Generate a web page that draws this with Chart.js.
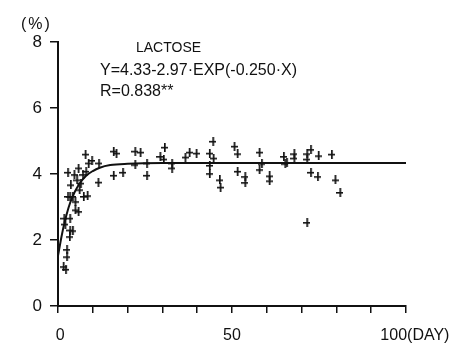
<!DOCTYPE html>
<html>
<head>
<meta charset="utf-8">
<script src="https://cdn.jsdelivr.net/npm/chart.js@4/dist/chart.umd.min.js"></script>
<style>
  html, body { margin: 0; padding: 0; background: #fff; }
  #wrap { width: 454px; height: 343px; position: relative; }
</style>
</head>
<body>
<div id="wrap"><canvas id="chart" width="454" height="343"></canvas></div>
<script>
// observed samples (day, lactose %)
const sampleDays = [
  1.5, 2.2, 2.5, 2.5, 1.7, 2.0, 3.3, 3.4, 4.2, 3.4, 2.8, 3.4, 4.2, 2.8, 3.6, 4.6,
  5.4, 5.8, 4.9, 4.9, 5.8, 6.1, 6.5, 7.1, 7.3, 8.4, 7.8, 8.0, 8.7, 9.7, 11.7, 11.5,
  15.9, 16.7, 15.9, 18.6, 22.1, 23.6, 22.1, 25.5, 25.5, 29.3, 30.6, 30.3, 32.7, 32.7,
  36.5, 37.7, 39.7, 43.5, 44.5, 44.6, 43.5, 43.5, 46.4, 46.6, 50.6, 51.5, 51.5, 53.7,
  53.7, 57.8, 57.8, 58.5, 60.7, 60.7, 64.8, 65.2, 65.7, 67.8, 67.8, 71.5, 71.5, 72.6,
  72.6, 74.8, 74.6, 78.6, 79.6, 81.0, 71.5
];
const sampleValues = [
  1.19, 1.11, 1.49, 1.71, 2.66, 2.48, 2.10, 2.30, 2.28, 2.66, 3.32, 3.32, 3.32, 4.05, 3.67, 3.98,
  3.82, 4.18, 3.16, 2.91, 2.86, 3.52, 3.72, 3.98, 3.32, 3.34, 4.60, 4.08, 4.33, 4.41, 4.33, 3.75,
  4.69, 4.63, 3.96, 4.05, 4.69, 4.66, 4.28, 4.33, 3.96, 4.53, 4.81, 4.45, 4.33, 4.18,
  4.51, 4.66, 4.63, 4.63, 4.99, 4.48, 4.26, 4.01, 3.82, 3.60, 4.84, 4.61, 4.08, 3.92,
  3.74, 4.66, 4.13, 4.31, 3.94, 3.79, 4.53, 4.31, 4.35, 4.61, 4.48, 4.61, 4.45, 4.74,
  4.05, 4.55, 3.92, 4.60, 3.82, 3.44, 2.53
];

// fitted curve
const curveDays = [0, 1, 2, 3, 4, 6, 8, 10, 12, 15, 20, 30, 50, 100];
const curveValues = [1.52, 2.1, 2.58, 2.97, 3.27, 3.68, 3.94, 4.09, 4.19, 4.27, 4.31, 4.33, 4.33, 4.33];

// leading spaces nudge the labels right, as in the printed figure
const xTickLabels = { 0: ' 0', 50: '50', 100: '    100(DAY)' };
const yTicks = [0, 2, 4, 6, 8];

const FONT = '"Liberation Sans", Arial, sans-serif';

function plusMark() {
  const c = document.createElement('canvas');
  c.width = 7; c.height = 9;
  const g = c.getContext('2d');
  g.fillStyle = '#111';
  g.fillRect(3, 0, 1.7, 9);
  g.fillRect(0, 4, 7, 1.6);
  return c;
}

const notes = {
  id: 'notes',
  afterDraw(chart) {
    const g = chart.ctx;
    g.save();
    g.fillStyle = '#111';
    g.textBaseline = 'middle';
    g.font = `16px ${FONT}`;
    g.letterSpacing = '2px';
    g.fillText('(%)', 21, 25);
    g.letterSpacing = '0px';
    g.font = `14px ${FONT}`;
    g.fillText('LACTOSE', 136, 48);
    g.font = `16px ${FONT}`;
    g.fillText('Y=4.33-2.97·EXP(-0.250·X)', 100, 71);
    g.fillText('R=0.838**', 100, 92);
    g.restore();
  }
};

new Chart(document.getElementById('chart'), {
  type: 'scatter',
  data: {
    datasets: [
      {
        data: sampleDays.map((d, i) => ({ x: d, y: sampleValues[i] })),
        pointStyle: plusMark(),
        pointRadius: 4,
        showLine: false,
      },
      {
        data: curveDays.map((d, i) => ({ x: d, y: curveValues[i] })),
        showLine: true,
        borderColor: '#111',
        borderWidth: 2,
        pointRadius: 0,
        cubicInterpolationMode: 'monotone',
      },
    ],
  },
  options: {
    responsive: false,
    animation: false,
    layout: { padding: { left: 0, top: 42, right: 48, bottom: 0 } },
    plugins: { legend: { display: false }, tooltip: { enabled: false } },
    scales: {
      x: {
        type: 'linear', min: 0, max: 100,
        afterFit: (s) => { s.height = 37; s.paddingLeft = 0; s.paddingRight = 0; },
        border: { color: '#111', width: 2 },
        grid: { drawOnChartArea: false, color: '#111', tickLength: 7, lineWidth: 1.5 },
        ticks: {
          stepSize: 10, autoSkip: false, maxRotation: 0, padding: 13,
          color: '#111', font: { family: FONT, size: 16 },
          callback: (v) => xTickLabels[v] ?? '',
        },
      },
      y: {
        min: 0, max: 8,
        afterFit: (s) => { s.width = 58; },
        afterBuildTicks: (s) => { s.ticks = yTicks.map((v) => ({ value: v })); },
        border: { color: '#111', width: 2 },
        grid: { drawOnChartArea: false, color: '#111', tickLength: 8, lineWidth: 1.5 },
        ticks: { autoSkip: false, padding: 8, color: '#111', font: { family: FONT, size: 17 } },
      },
    },
  },
  plugins: [notes],
});
</script>
</body>
</html>
